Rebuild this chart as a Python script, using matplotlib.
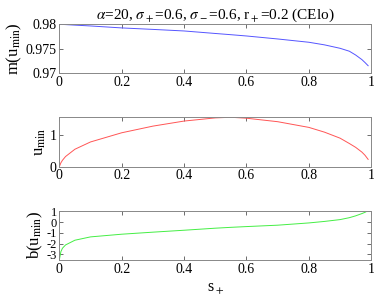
import matplotlib
matplotlib.use('Agg')
import matplotlib.pyplot as plt

plt.rcParams['font.family'] = ['Liberation Serif', 'DejaVu Serif']
plt.rcParams['mathtext.fontset'] = 'stix'
plt.rcParams['axes.unicode_minus'] = False

# values
s_plus = [0.0, 0.005, 0.01, 0.02, 0.05, 0.1, 0.2, 0.3, 0.4, 0.5, 0.55, 0.6,
          0.7, 0.8, 0.85, 0.9, 0.93, 0.95, 0.97, 0.98, 0.99]
m_umin = [0.98, 0.97998, 0.97996, 0.97993, 0.97982, 0.97965, 0.97925,
          0.97895, 0.97863, 0.97812, 0.97787, 0.97761, 0.9770, 0.97633,
          0.9758, 0.9751, 0.9745, 0.97373, 0.9728, 0.9722, 0.97155]
u_min = [0.0, 0.12, 0.2, 0.32, 0.55, 0.78, 1.07, 1.28, 1.44, 1.54, 1.56,
         1.53, 1.42, 1.24, 1.09, 0.90, 0.73, 0.61, 0.46, 0.36, 0.23]
b_umin = [-3.52, -2.75, -2.43, -2.12, -1.68, -1.37, -1.12, -0.93, -0.75,
          -0.56, -0.48, -0.41, -0.28, -0.07, 0.07, 0.24, 0.42, 0.59, 0.80,
          0.92, 1.08]

xticks = [0, 0.2, 0.4, 0.6, 0.8, 1]
xticklabels = ['0', '0.2', '0.4', '0.6', '0.8', '1']

fig = plt.figure(figsize=(3.74, 3.03), dpi=100)
ax1 = fig.add_axes([0.1586, 0.758, 0.834, 0.162])
ax2 = fig.add_axes([0.1586, 0.450, 0.834, 0.163])
ax3 = fig.add_axes([0.1586, 0.142, 0.834, 0.163])

ax1.plot(s_plus, m_umin, color='#5555ff', lw=0.7)
ax2.plot(s_plus, u_min, color='#ff5555', lw=0.7)
ax3.plot(s_plus, b_umin, color='#44ee44', lw=0.7)

ax1.set_ylim(0.97, 0.98)
ax1.set_yticks([0.97, 0.975, 0.98])
ax1.set_yticklabels(['0.97', '0.975', '0.98'])
ax2.set_ylim(0, 1.56)
ax2.set_yticks([0, 1])
ax2.set_yticklabels(['0', '1'])
ax3.set_ylim(-3.52, 1.08)
ax3.set_yticks([-3, -2, -1, 0, 1])
ax3.set_yticklabels(['-3', '-2', '-1', '0', '1'])

for ax in (ax1, ax2, ax3):
    ax.set_xlim(0, 1)
    ax.set_xticks(xticks)
    ax.set_xticklabels(xticklabels)
    ax.tick_params(direction='in', top=True, right=True, labelsize=10,
                   length=3, width=0.6, color='#555555', pad=2)
    for sp in ax.spines.values():
        sp.set_color('#888888')
        sp.set_linewidth(0.7)
ax3.tick_params(axis='y', labelsize=9, pad=1.5)

ax1.set_ylabel(r'm(u$_{\mathrm{min}}$)', fontsize=12, labelpad=1)
ax2.set_ylabel(r'u$_{\mathrm{min}}$', fontsize=12, labelpad=1)
ax3.set_ylabel(r'b(u$_{\mathrm{min}}$)', fontsize=12, labelpad=1)
ax3.set_xlabel(r's$_+$', fontsize=11.5, labelpad=3)
ax1.set_title(r'$\alpha$=20, $\sigma_+$=0.6, $\sigma_-$=0.6, r$_+$=0.2 (CElo)',
              fontsize=11, pad=4)

fig.savefig('out.png', dpi=100)
plt.close()
